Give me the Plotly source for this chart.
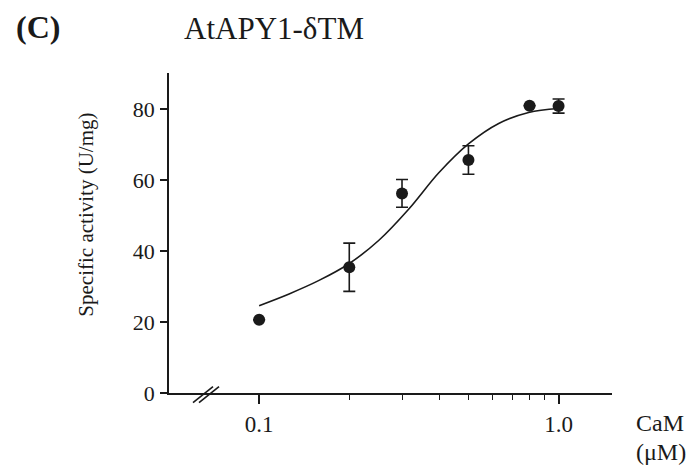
import plotly.graph_objects as go

# Data
cam_conc = [0.1, 0.2, 0.3, 0.5, 0.8, 1.0]
activity = [20.6, 35.4, 56.2, 65.6, 80.9, 80.8]
activity_err = [0.0, 6.8, 3.9, 4.0, 0.0, 2.0]

# fitted curve at evenly spaced log positions
fit_x = [0.1, 0.1259, 0.1585, 0.1995, 0.2512, 0.3162, 0.3981, 0.5012, 0.6310, 0.7943, 1.0]
fit_y = [24.6, 27.9, 31.7, 36.4, 43.0, 51.8, 62.0, 70.2, 75.9, 79.0, 80.1]

x_major_ticks = [0.1, 1.0]
x_major_labels = ["0.1", "1.0"]
x_minor_ticks = [0.2, 0.3, 0.4, 0.5, 0.6, 0.7, 0.8, 0.9]
y_ticks = [0, 20, 40, 60, 80]

FONT = "Liberation Serif"
INK = "#1a1a1a"

# page body has an 8px margin; lay the figure out in reference pixels minus that offset
OFF = 8
W, H = 696 - OFF, 465 - OFF
L, T = 169 - OFF, 73.3 - OFF
R = W - (611.7 - OFF)
B = H - (393.3 - OFF)
pw, ph = W - L - R, H - T - B

def px_x(px):
    return (px - OFF - L) / pw

def px_y(py):
    return (H - B - (py - OFF)) / ph

fig = go.Figure()
fig.add_trace(go.Scatter(
    x=fit_x, y=fit_y, mode="lines",
    line=dict(color=INK, width=1.6, shape="spline", smoothing=1.0),
    hoverinfo="skip", showlegend=False))
fig.add_trace(go.Scatter(
    x=cam_conc, y=activity, mode="markers",
    marker=dict(color=INK, size=12),
    error_y=dict(type="data", array=activity_err, visible=True, color=INK, thickness=1.6, width=6),
    showlegend=False))

fig.update_layout(
    width=W, height=H,
    margin=dict(l=L, r=R, t=T, b=B, autoexpand=False),
    paper_bgcolor="white", plot_bgcolor="white",
    font=dict(family=FONT, color=INK),
    xaxis=dict(
        type="log", range=[-1.301, 0.1784],
        showgrid=False, zeroline=False, showline=True, linecolor=INK, linewidth=1.6,
        tickmode="array", tickvals=x_major_ticks, ticktext=x_major_labels,
        ticks="outside", ticklen=9, tickwidth=1.6, tickcolor=INK,
        tickfont=dict(family=FONT, size=23, color=INK), ticklabelstandoff=1,
        minor=dict(tickvals=x_minor_ticks, ticks="outside", ticklen=5, tickwidth=1.4,
                   tickcolor=INK, showgrid=False),
    ),
    yaxis=dict(
        range=[0, 90.1],
        showgrid=False, zeroline=False, showline=True, linecolor=INK, linewidth=1.6,
        tickmode="array", tickvals=y_ticks,
        ticks="outside", ticklen=7, tickwidth=1.6, tickcolor=INK,
        tickfont=dict(family=FONT, size=22, color=INK), ticklabelstandoff=1,
    ),
)

annotations = [
    dict(text="<b>(C)</b>", x=px_x(14), y=px_y(27), xanchor="left", yanchor="middle",
         font=dict(family=FONT, size=32, color=INK)),
    dict(text="AtAPY1-δTM", x=px_x(182), y=px_y(29), xanchor="left", yanchor="middle",
         font=dict(family=FONT, size=31, color=INK)),
    dict(text="Specific activity (U/mg)", x=px_x(86), y=px_y(215), xanchor="center",
         yanchor="middle", textangle=-90, font=dict(family=FONT, size=21, color=INK)),
    dict(text="CaM", x=px_x(634), y=px_y(423), xanchor="left", yanchor="middle",
         font=dict(family=FONT, size=24, color=INK)),
    dict(text="(μM)", x=px_x(634), y=px_y(452), xanchor="left", yanchor="middle",
         font=dict(family=FONT, size=24, color=INK)),
]
for a in annotations:
    a.update(xref="paper", yref="paper", showarrow=False)
fig.update_layout(annotations=annotations)

# axis break marks "//"
for dx in (0, 6):
    fig.add_shape(type="line", xref="paper", yref="paper",
                  x0=px_x(193 + dx), y0=px_y(403), x1=px_x(213 + dx), y1=px_y(387),
                  line=dict(color=INK, width=1.6))

fig.write_html("out.html")
